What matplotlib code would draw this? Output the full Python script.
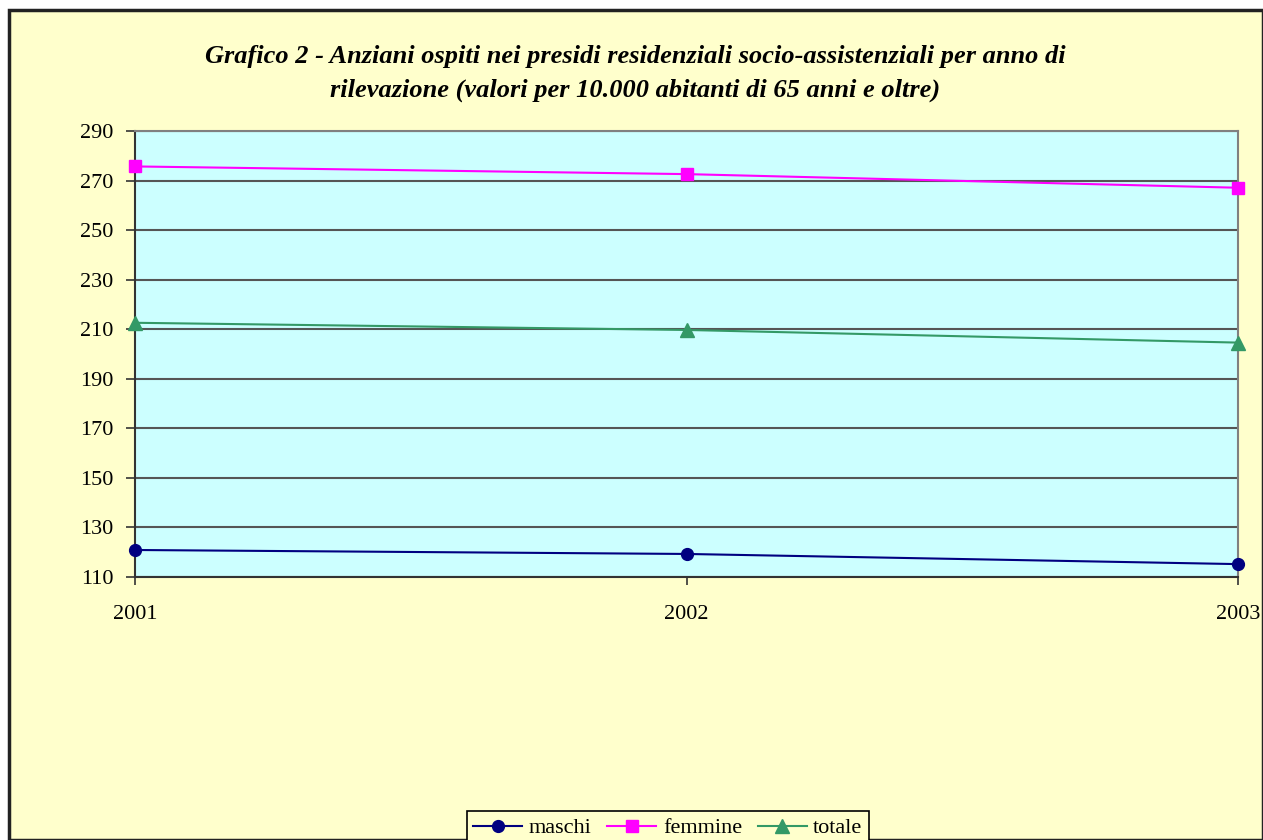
import matplotlib
matplotlib.use("Agg")
import matplotlib.pyplot as plt
from matplotlib.patches import Rectangle

years = [2001, 2002, 2003]
year_labels = ["2001", "2002", "2003"]
maschi = [120.9, 119.3, 115.2]
femmine = [275.7, 272.6, 267.1]
totale = [212.6, 209.7, 204.6]
yticks = list(range(110, 291, 20))

plt.rcParams['font.family'] = ['Liberation Serif', 'DejaVu Serif']

W, H = 1263, 840
fig = plt.figure(figsize=(W / 100, H / 100), dpi=100, facecolor='white')

# outer chart area
fig.patches.append(Rectangle((9 / W, 0), 1 - 9 / W, 1 - 10 / H, transform=fig.transFigure,
                             facecolor='#FFFFCC', edgecolor='#222222', linewidth=2.5, zorder=-10))

ax = fig.add_axes([135 / W, 1 - 577 / H, (1238 - 135) / W, (577 - 131) / H])
ax.set_facecolor('#CCFFFF')

ax.plot(years, maschi, color='#000080', marker='o', markersize=8.5, linewidth=1.5, label='maschi', clip_on=False, zorder=5)
ax.plot(years, femmine, color='#FF00FF', marker='s', markersize=8, linewidth=1.5, label='femmine', clip_on=False, zorder=5)
ax.plot(years, totale, color='#339966', marker='^', markersize=9.5, linewidth=1.5, label='totale', clip_on=False, zorder=5)

ax.set_xlim(2001, 2003)
ax.set_ylim(110, 290)
ax.set_yticks(yticks)
ax.set_yticklabels([str(v) for v in yticks], fontsize=16)
ax.set_xticks(years)
ax.set_xticklabels(year_labels, fontsize=16)
ax.tick_params(axis='y', direction='out', length=6.5, width=1.2, color='#333333', pad=9)
ax.tick_params(axis='x', direction='out', length=6, width=1.2, color='#333333', pad=14)
ax.grid(axis='y', color='#555555', linewidth=1.5)
ax.set_axisbelow(True)
for s in ['top', 'right']:
    ax.spines[s].set_color('#808080')
    ax.spines[s].set_linewidth(1.5)
for s in ['left', 'bottom']:
    ax.spines[s].set_color('#333333')
    ax.spines[s].set_linewidth(1.5)

fig.text(635 / W, 1 - 56 / H, "Grafico 2 - Anziani ospiti nei presidi residenziali socio-assistenziali per anno di",
         ha='center', va='center', fontsize=19, fontweight='bold', fontstyle='italic')
fig.text(635 / W, 1 - 90 / H, "rilevazione (valori per 10.000 abitanti di 65 anni e oltre)",
         ha='center', va='center', fontsize=19, fontweight='bold', fontstyle='italic')

leg = fig.legend(loc='upper center', bbox_to_anchor=(668 / W, 1 - 800 / H), ncol=3, fontsize=16,
                 frameon=True, fancybox=False, edgecolor='black', facecolor='#FFFFCC', framealpha=1,
                 handlelength=2.2, columnspacing=0.7, handletextpad=0.3, borderpad=0.3)
leg.get_frame().set_linewidth(1.2)

fig.savefig('out.png', dpi=100, facecolor='white')
